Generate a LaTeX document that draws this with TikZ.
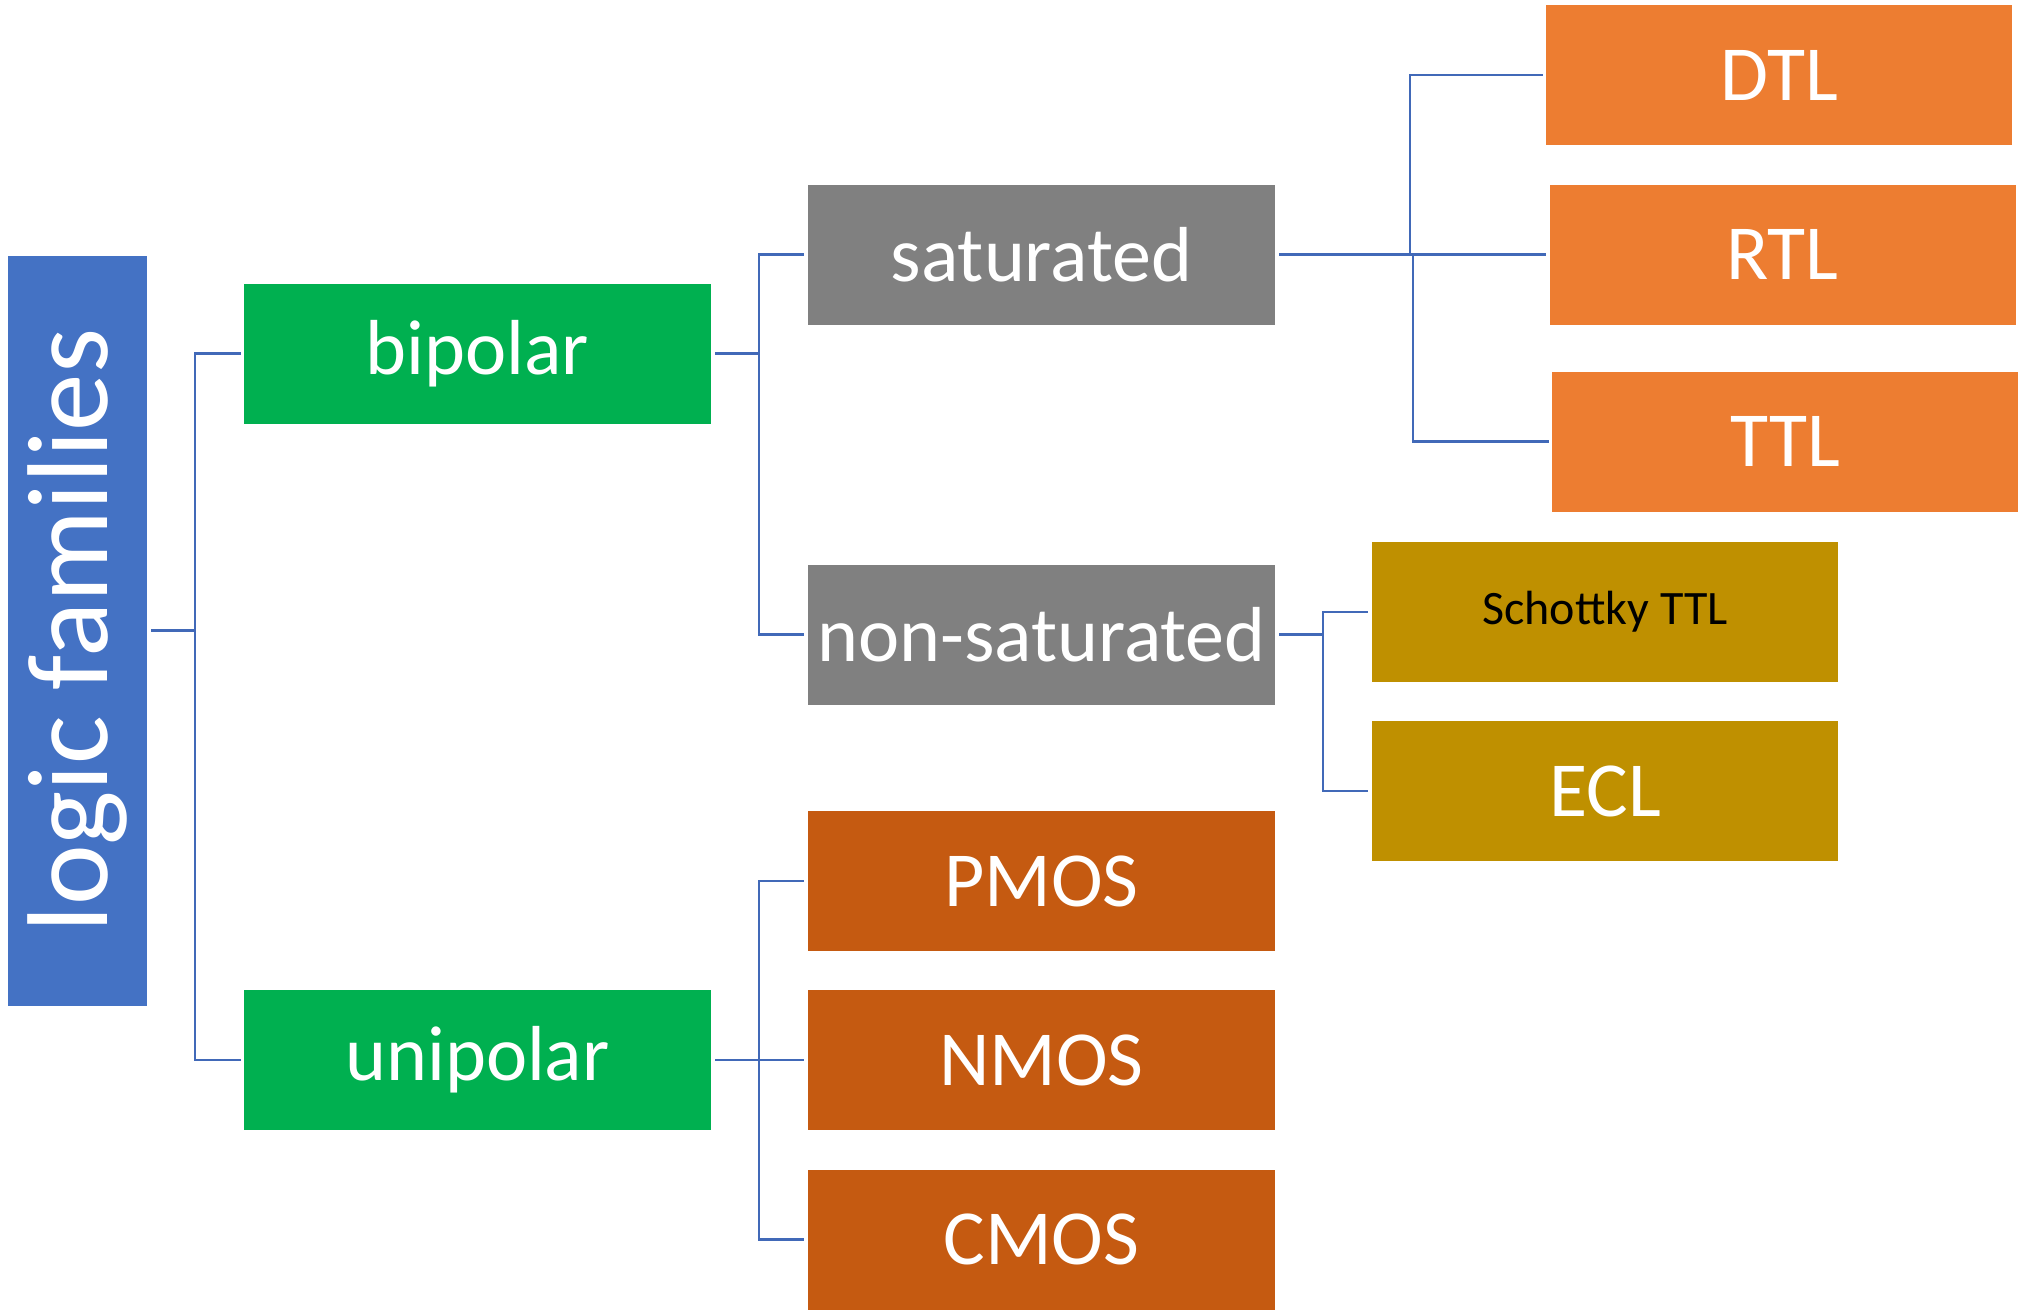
\documentclass[tikz,border=0pt]{standalone}
\usepackage{fontspec}
\setmainfont{Carlito}
\definecolor{cblue}{HTML}{4472C4}
\definecolor{cline}{HTML}{4169B8}
\definecolor{cgreen}{HTML}{00B050}
\definecolor{cgray}{HTML}{808080}
\definecolor{corange}{HTML}{ED7D31}
\definecolor{cgold}{HTML}{BF9000}
\definecolor{crust}{HTML}{C55A11}
\tikzset{
  box/.style={rectangle, inner sep=0, minimum width=467, minimum height=140, text=white,
    font=\fontsize{78}{80}\selectfont},
  conn/.style={draw=cline, line width=2.5pt},
}
\begin{document}
\begin{tikzpicture}[x=1pt,y=-1pt]
\useasboundingbox (0,0) rectangle (2024,1312);
\node[box, fill=cblue, minimum width=750, minimum height=139.3, font=\fontsize{115}{118}\selectfont, rotate=90] (logic) at (77.3,630.5) {logic families};
\node[box, fill=cgreen] (bipolar) at (477.5,353.5) {bipolar};
\node[box, fill=cgreen] (unipolar) at (477.5,1060) {unipolar};
\node[box, fill=cgray] (sat) at (1041.5,254.5) {saturated};
\node[box, fill=cgray] (nonsat) at (1041.5,634.5) {non-saturated};
\node[box, fill=crust] (pmos) at (1041.5,881) {PMOS};
\node[box, fill=crust] (nmos) at (1041.5,1060) {NMOS};
\node[box, fill=crust] (cmos) at (1041.5,1239.5) {CMOS};
\node[box, fill=cgold, minimum width=466, text=black, font=\fontsize{48}{50}\selectfont] (schottky) at (1605,612) {Schottky TTL};
\node[box, fill=cgold, minimum width=466] (ecl) at (1605,791) {ECL};
\node[box, fill=corange, minimum width=466] (dtl) at (1779,75) {DTL};
\node[box, fill=corange, minimum width=466] (rtl) at (1782.5,254.5) {RTL};
\node[box, fill=corange, minimum width=466] (ttl) at (1785,441.5) {TTL};
% junctions
\coordinate (j1) at (195,630.5);
\coordinate (j2) at (759,353.5);
\coordinate (j3) at (759,1060);
\coordinate (j4) at (1410,254.5);
\coordinate (j5) at (1413,254.5);
\coordinate (j6) at (1323,634.5);
% connectors
\draw[conn] ([xshift=4]logic.south) -- (j1);
\draw[conn] ([xshift=-3]bipolar.west) -| (j1) |- ([xshift=-3]unipolar.west);
\draw[conn] ([xshift=4]bipolar.east) -- (j2);
\draw[conn] ([xshift=-4]sat.west) -| (j2) |- ([xshift=-4]nonsat.west);
\draw[conn] ([xshift=4]unipolar.east) -- ([xshift=-4]nmos.west);
\draw[conn] ([xshift=-4]pmos.west) -| (j3) |- ([xshift=-4]cmos.west);
\draw[conn] ([xshift=4]sat.east) -- ([xshift=-3]rtl.west);
\draw[conn] (j4) |- ([xshift=-3]dtl.west);
\draw[conn] (j5) |- ([xshift=-3]ttl.west);
\draw[conn] ([xshift=4]nonsat.east) -- (j6);
\draw[conn] ([xshift=-4]schottky.west) -| (j6) |- ([xshift=-4]ecl.west);
\end{tikzpicture}
\end{document}
